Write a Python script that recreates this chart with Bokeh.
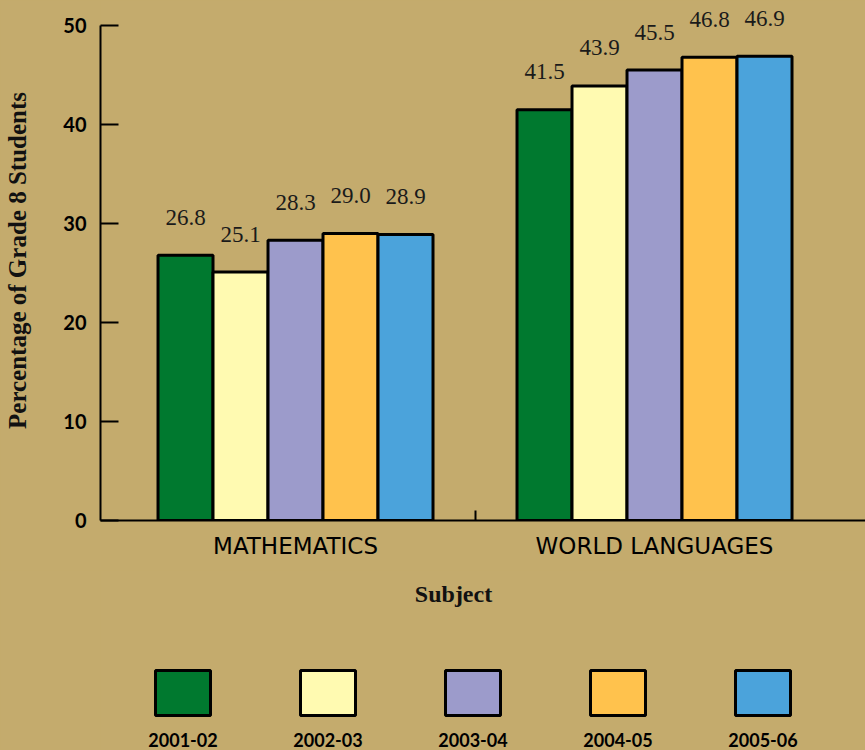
import numpy as np
from bokeh.plotting import figure
from bokeh.layouts import column
from bokeh.models import (Range1d, FixedTicker, ColumnDataSource)
from bokeh.core.properties import value
from bokeh.embed import file_html
from bokeh.resources import INLINE

# ---------------- data ----------------
subjects = ["MATHEMATICS", "WORLD LANGUAGES"]
years = ["2001-02", "2002-03", "2003-04", "2004-05", "2005-06"]
colors = ["#00792F", "#FFFAB1", "#9C9BCB", "#FFC24D", "#4BA3DB"]
math_vals = [26.8, 25.1, 28.3, 29.0, 28.9]
lang_vals = [41.5, 43.9, 45.5, 46.8, 46.9]
y_ticks = [0, 10, 20, 30, 40, 50]
x_title = "Subject"
y_title = "Percentage of Grade 8 Students"

BG = "#C4AB6D"
HAND = "Lato"
SERIF = "Liberation Serif"

# ---------------- main chart ----------------
W, H = 865, 570
LEFT = 100
p = figure(width=W, height=H, output_backend="svg", toolbar_location=None,
           x_range=Range1d(-0.5432, 1.5877), y_range=Range1d(0, 52.525),
           min_border_left=LEFT, min_border_right=0, min_border_top=0,
           min_border_bottom=50)
p.background_fill_color = BG
p.border_fill_color = BG
p.outline_line_color = None
p.grid.visible = False

bw = 0.1532
xs, tops, fills, labels = [], [], [], []
for gi, vals in enumerate([math_vals, lang_vals]):
    for j, v in enumerate(vals):
        xs.append(gi + (j - 2) * bw)
        tops.append(v)
        fills.append(colors[j])
        labels.append(f"{v:.1f}")
src = ColumnDataSource(dict(x=xs, top=tops, fill=fills, label=labels))
p.vbar(x="x", top="top", bottom=0, width=bw, source=src, fill_color="fill",
       line_color="black", line_width=3)
p.text(x="x", y="top", text="label", source=src, text_align="center",
       text_baseline="alphabetic", y_offset=-38,
       text_font=value(SERIF), text_font_size="23px", text_color="#1a1a1a")

# y axis
ya = p.yaxis[0]
ya.ticker = FixedTicker(ticks=y_ticks, minor_ticks=[])
ya.bounds = (0, 50)
ya.major_tick_in = 18
ya.major_tick_out = 0
ya.axis_line_width = 2
ya.major_tick_line_width = 2
ya.major_label_standoff = 14
ya.major_label_text_font = HAND
ya.major_label_text_font_style = "bold"
ya.major_label_text_font_size = "20px"
ya.major_label_text_color = "black"
ya.axis_label = y_title
ya.axis_label_text_font = SERIF
ya.axis_label_text_font_style = "bold"
ya.axis_label_text_font_size = "25px"
ya.axis_label_text_color = "#111111"
ya.axis_label_standoff = 29

# x axis
xa = p.xaxis[0]
xa.ticker = FixedTicker(ticks=[0, 1], minor_ticks=[0.5])
xa.major_label_overrides = {0: subjects[0], 1: subjects[1]}
xa.major_tick_in = 0
xa.major_tick_out = 0
xa.minor_tick_in = 10
xa.minor_tick_out = 0
xa.minor_tick_line_width = 2
xa.axis_line_width = 2
xa.major_label_standoff = 12
xa.major_label_text_font = "DejaVu Sans"
xa.major_label_text_font_size = "23px"
xa.major_label_text_color = "black"

# ---------------- lower strip: axis title + legend ----------------
LH = 750 - H
x0 = -(182.5 - LEFT) / 145.0
lg = figure(width=W, height=LH, output_backend="svg", toolbar_location=None,
            x_range=Range1d(x0, x0 + (W - LEFT) / 145.0),
            y_range=Range1d(0, LH),
            min_border=0, min_border_left=LEFT)
lg.background_fill_color = BG
lg.border_fill_color = BG
lg.outline_line_color = None
lg.axis.visible = False
lg.grid.visible = False
lsrc = ColumnDataSource(dict(x=list(range(len(years))), c=colors, t=years))
lg.rect(x="x", y=57.5, width=55, height=45, width_units="screen",
        height_units="screen", source=lsrc, fill_color="c",
        line_color="black", line_width=3)
lg.text(x="x", y=11, text="t", source=lsrc, text_align="center",
        text_baseline="middle", text_font=value(HAND),
        text_font_style="bold", text_font_size="18px", text_color="black")
lg.text(x=[x0 + (453 - LEFT) / 145.0], y=[750 - 593], text=[x_title],
        text_align="center", text_baseline="middle",
        text_font=value(SERIF), text_font_style="bold",
        text_font_size="24px", text_color="#111111")

layout = column(p, lg, spacing=0)
html = file_html(layout, INLINE)
html = html.replace("<head>", "<head><style>html,body{margin:0;padding:0;overflow:hidden;background:%s}</style>" % BG, 1)
open("out.html", "w").write(html)
